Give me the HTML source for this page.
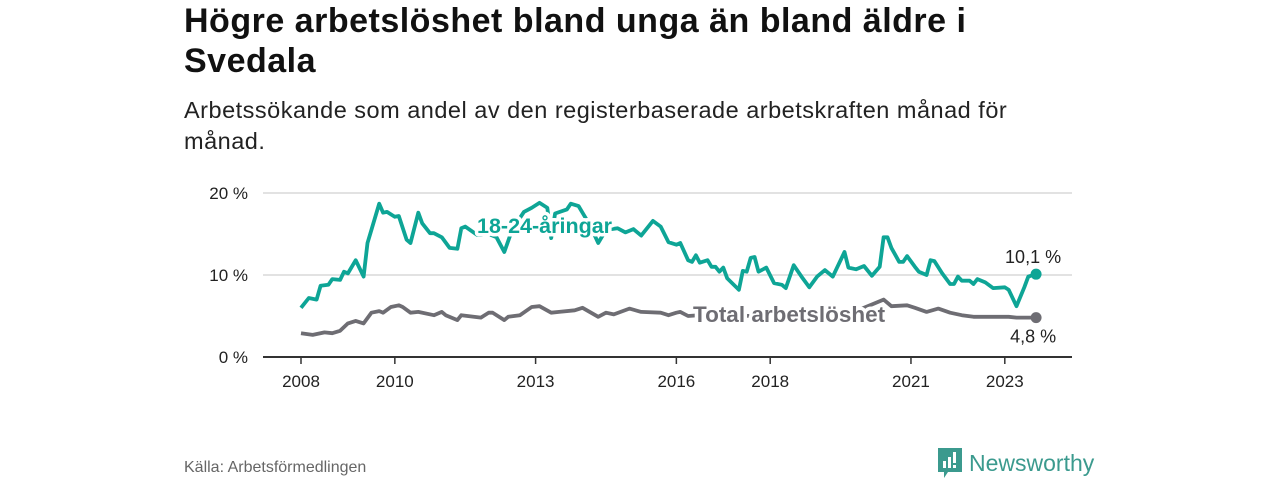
<!DOCTYPE html>
<html><head><meta charset="utf-8">
<style>
body{margin:0;width:1280px;height:480px;background:#fff;font-family:"Liberation Sans",sans-serif;overflow:hidden;position:relative}
h1{position:absolute;left:184px;top:1px;margin:0;font-size:34px;letter-spacing:0.5px;line-height:40px;font-weight:bold;color:#111;width:830px}
.sub{position:absolute;left:184px;top:95px;font-size:23.5px;letter-spacing:0.5px;line-height:31px;color:#222;width:860px}
.src{position:absolute;left:184px;top:459px;font-size:16px;color:#666}
.logo{position:absolute;left:938px;top:448px;display:flex;align-items:center;gap:7px;color:#3b9a8e;font-size:23px}
svg text{font-family:"Liberation Sans",sans-serif}
</style></head><body>
<h1>Högre arbetslöshet bland unga än bland äldre i Svedala</h1>
<div class="sub">Arbetssökande som andel av den registerbaserade arbetskraften månad för månad.</div>
<svg id="chart" width="1280" height="480" style="position:absolute;left:0;top:0"></svg>
<div class="src">Källa: Arbetsförmedlingen</div>
<div class="logo">
<svg width="24" height="30" viewBox="0 0 24 30"><path d="M0 0H24V24H10L6 30V24H0Z" fill="#3b9a8e"/><rect x="5" y="13" width="3" height="7" fill="#fff"/><rect x="10" y="9" width="3" height="11" fill="#fff"/><rect x="15" y="4" width="3" height="11" fill="#fff"/><rect x="15" y="17" width="3" height="3" fill="#fff"/></svg>
<span>Newsworthy</span></div>
<script>
const youngMonths=[0,2,4,5,7,8,10,11,12,14,16,17,18,20,21,22,24,25,27,28,30,31,33,34,36,38,40,41,42,45,46,48,50,52,54,57,59,61,63,64,65,68,69,71,72,74,76,78,81,83,85,87,90,92,94,96,97,99,100,101,102,104,105,106,107,108,109,112,113,114,115,116,117,119,121,123,124,126,128,130,132,134,136,139,140,142,144,146,148,149,150,151,153,154,155,157,158,160,161,162,164,166,167,168,169,171,172,173,175,177,180,181,183,185,186,188];
const youngValues=[6.0,7.2,7.0,8.7,8.8,9.5,9.4,10.4,10.2,11.8,9.8,13.9,15.5,18.7,17.6,17.7,17.1,17.2,14.3,13.9,17.6,16.3,15.1,15.1,14.6,13.3,13.2,15.7,15.9,14.9,14.9,15.0,14.6,12.8,15.5,17.7,18.2,18.8,18.2,14.5,17.5,18.0,18.7,18.4,17.6,16.0,13.9,15.5,15.7,15.2,15.6,14.8,16.6,15.9,14.0,13.7,13.9,11.8,11.6,12.4,11.5,11.8,11.0,11.0,10.4,10.9,9.6,8.2,10.5,10.4,12.1,12.2,10.4,10.9,9.0,8.8,8.4,11.2,9.8,8.5,9.8,10.6,9.8,12.8,10.9,10.7,11.1,9.9,11.0,14.6,14.6,13.3,11.6,11.6,12.3,11.0,10.4,10.0,11.8,11.7,10.2,8.9,8.9,9.8,9.3,9.3,8.9,9.5,9.1,8.4,8.5,8.2,6.2,8.5,9.8,10.1];
const totalMonths=[0,3,6,8,10,12,14,16,18,20,21,23,25,26,28,30,34,36,37,40,41,46,48,49,52,53,56,59,61,64,66,70,72,76,78,80,84,87,92,94,96,97,99,105,115,125,135,143,149,151,155,157,160,163,166,169,172,176,181,183,186,188];
const totalValues=[2.9,2.7,3.0,2.9,3.2,4.1,4.4,4.1,5.4,5.6,5.4,6.1,6.3,6.1,5.4,5.5,5.1,5.5,5.1,4.5,5.1,4.8,5.4,5.4,4.5,4.9,5.1,6.1,6.2,5.4,5.5,5.7,6.0,4.9,5.4,5.2,5.9,5.5,5.4,5.1,5.4,5.5,5.0,5.2,5.0,5.1,5.3,5.8,7.0,6.2,6.3,6.0,5.5,5.9,5.4,5.1,4.9,4.9,4.9,4.8,4.8,4.8];
const yTicks=[0,10,20];
const yTickLabels=["0 %","10 %","20 %"];
const xTickYears=[2008,2010,2013,2016,2018,2021,2023];
const youngLastLabel="10,1 %", totalLastLabel="4,8 %";

const NS="http://www.w3.org/2000/svg";
const svg=document.getElementById('chart');
const X0=301, PXM=3.91, Y0=357, PXV=8.2;
const xS=m=>X0+m*PXM, yS=v=>Y0-v*PXV;
function el(t,a,p){const e=document.createElementNS(NS,t);for(const k in a)e.setAttribute(k,a[k]);(p||svg).appendChild(e);return e;}
yTicks.forEach((t,i)=>{
  if(t>0){const g=el('line',{x1:263,x2:1072,y1:yS(t),y2:yS(t),stroke:'#d9d9d9','stroke-width':1.5});
  
  }
  const l=el('text',{x:248,y:yS(t)+6,'text-anchor':'end','font-size':17,fill:'#222'});l.textContent=yTickLabels[i];
  
  
});
const ax=el('line',{x1:263,x2:1072,y1:Y0,y2:Y0,stroke:'#333','stroke-width':2});


xTickYears.forEach(yr=>{
  const x=xS((yr-2008)*12);
  const tk=el('line',{x1:x,x2:x,y1:Y0,y2:Y0+7,stroke:'#333','stroke-width':1.5});
  
  
  const l=el('text',{x:x,y:387,'text-anchor':'middle','font-size':17,fill:'#222'});l.textContent=yr;
  
  
});
function line(ms,vs,color,name){
  const d=ms.map((m,i)=>(i?'L':'M')+xS(m).toFixed(1)+' '+yS(vs[i]).toFixed(1)).join(' ');
  const p=el('path',{d:d,fill:'none',stroke:color,'stroke-width':3.8,'stroke-linejoin':'round'});
  
  
  const n=ms.length-1;
  const c=el('circle',{cx:xS(ms[n]),cy:yS(vs[n]),r:5.5,fill:color});
  
  
}
line(totalMonths,totalValues,'#6e6d73','total-line');
line(youngMonths,youngValues,'#0ea596','young-line');
function lab(x,y,txt,color,name,size){
  const t=el('text',{x:x,y:y,'font-size':size,'font-weight':'bold',fill:color,stroke:'#fff','stroke-width':7,'paint-order':'stroke','stroke-linejoin':'round'});
  t.textContent=txt;
  
  
}
lab(477,233,'18-24-åringar','#0ea596','young-series-label',21.5);
lab(693,322,'Total arbetslöshet','#6e6d73','total-series-label',22.5);
const yl=youngMonths.length-1, tl=totalMonths.length-1;
const a=el('text',{x:xS(youngMonths[yl])-3,y:yS(youngValues[yl])-11,'text-anchor':'middle','font-size':18,fill:'#222'});a.textContent=youngLastLabel;


const b=el('text',{x:xS(totalMonths[tl])-3,y:yS(totalValues[tl])+25,'text-anchor':'middle','font-size':18,fill:'#222'});b.textContent=totalLastLabel;


</script>
</body></html>
